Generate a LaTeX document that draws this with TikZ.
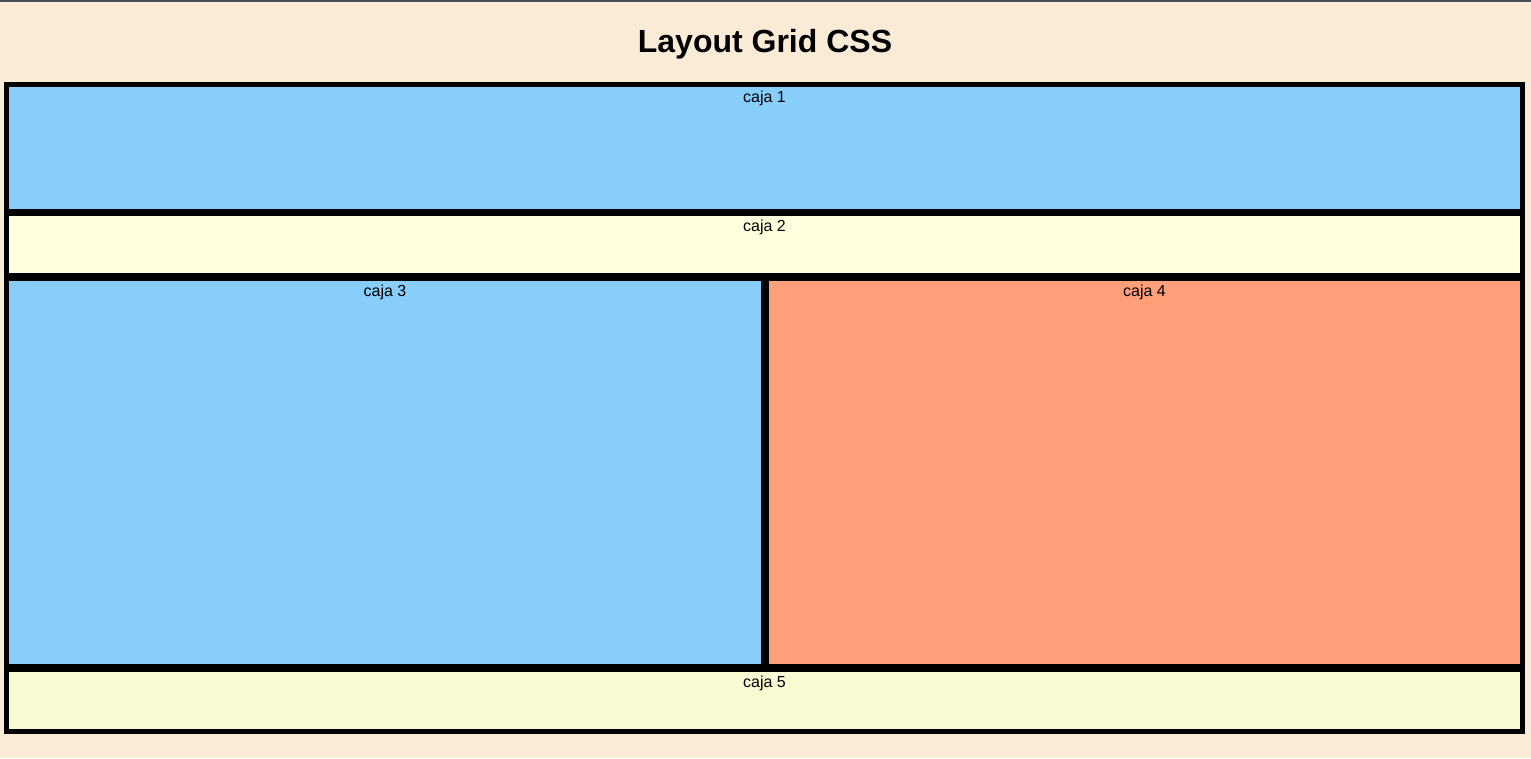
\documentclass[tikz,border=0pt]{standalone}
\usepackage{fontspec}
\setmainfont{Liberation Sans}
\definecolor{pagebg}{HTML}{FAEBD7}
\definecolor{topline}{HTML}{4B4B5A}
\definecolor{skyblue}{HTML}{87CEFA}
\definecolor{lyellow}{HTML}{FFFFE0}
\definecolor{lsalmon}{HTML}{FFA07A}
\definecolor{lgold}{HTML}{FAFAD2}
\begin{document}
\begin{tikzpicture}[x=1pt,y=-1pt,
  boxfill/.style={rectangle,inner sep=0pt,outer sep=0pt,anchor=north west,draw=none},
  boxlabel/.style={font=\fontsize{16}{19}\selectfont,anchor=base,inner sep=0pt,text=black},
  titletext/.style={font=\bfseries\fontsize{32}{38}\selectfont,anchor=base,inner sep=0pt,text=black}]
\useasboundingbox (0,0) rectangle (1531,758);
\fill[pagebg] (0,0) rectangle (1531,758);
\fill[topline] (0,0) rectangle (1531,2);
\node[titletext] (title) at (765,52) {Layout Grid CSS};
\node[boxfill,fill=black,minimum width=1521pt,minimum height=652pt] (frame) at (4,82) {};
\node[boxfill,fill=skyblue,minimum width=1511pt,minimum height=122pt] (c1) at (9,87) {};
\node[boxfill,fill=lyellow,minimum width=1511pt,minimum height=57pt] (c2) at (9,216) {};
\node[boxfill,fill=skyblue,minimum width=752pt,minimum height=383pt] (c3) at (9,281) {};
\node[boxfill,fill=lsalmon,minimum width=751pt,minimum height=383pt] (c4) at (769,281) {};
\node[boxfill,fill=lgold,minimum width=1511pt,minimum height=57pt] (c5) at (9,672) {};
\node[boxlabel] (t1) at ([yshift=-15pt]c1.north) {caja 1};
\node[boxlabel] (t2) at ([yshift=-15pt]c2.north) {caja 2};
\node[boxlabel] (t3) at ([yshift=-15pt]c3.north) {caja 3};
\node[boxlabel] (t4) at ([yshift=-15pt]c4.north) {caja 4};
\node[boxlabel] (t5) at ([yshift=-15pt]c5.north) {caja 5};
\end{tikzpicture}
\end{document}
